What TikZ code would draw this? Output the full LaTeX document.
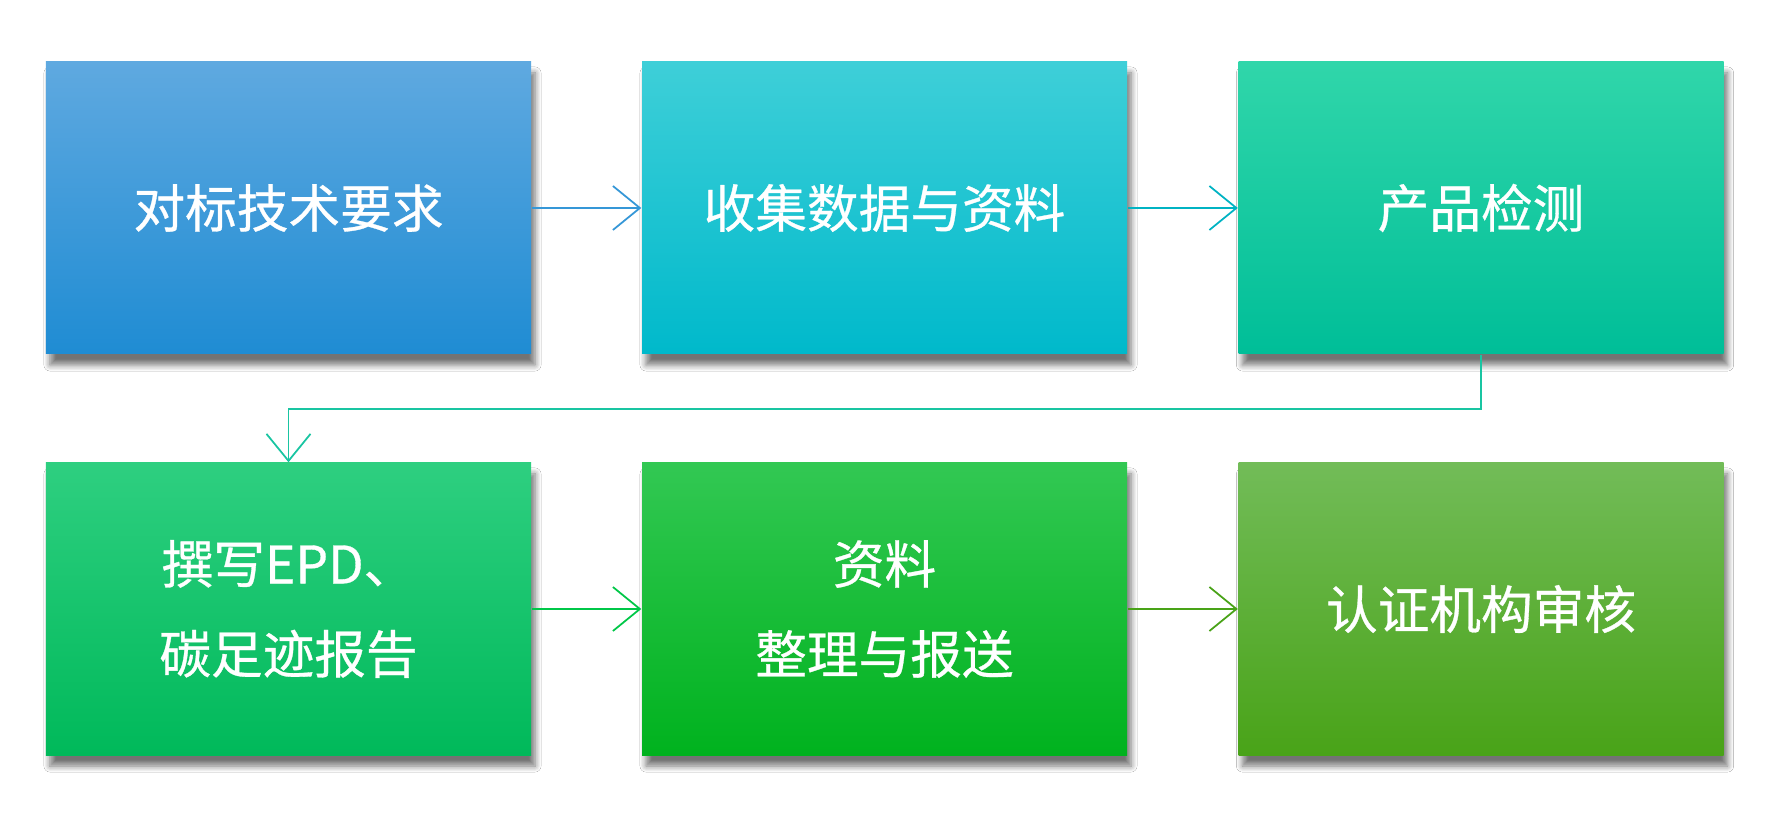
\documentclass[tikz,border=0pt]{standalone}
\usepackage{fontspec}
\newfontfamily\cjk[FakeBold=0.6]{Noto Sans CJK SC}
\usetikzlibrary{arrows.meta,shadows.blur}

\definecolor{blueA}{HTML}{5FA9E0}
\definecolor{blueB}{HTML}{1F8CD3}
\definecolor{cyanA}{HTML}{3ECFD8}
\definecolor{cyanB}{HTML}{00B9CB}
\definecolor{tealA}{HTML}{30D6AA}
\definecolor{tealB}{HTML}{00BE98}
\definecolor{mintA}{HTML}{2ECF80}
\definecolor{mintB}{HTML}{00B95A}
\definecolor{greenA}{HTML}{32C853}
\definecolor{greenB}{HTML}{00B21E}
\definecolor{leafA}{HTML}{72BC58}
\definecolor{leafB}{HTML}{49A318}

\tikzset{
  stepbox/.style={rectangle, minimum width=4.85cm, minimum height=2.92cm,
    inner sep=0pt, text=white, align=center,
    font=\cjk\fontsize{14.7}{25.6}\selectfont,
    blur shadow={shadow xshift=0.4mm, shadow yshift=-1.1mm,
      shadow opacity=55, shadow blur steps=6}},
  flow/.style={line width=0.5pt,
    -{Straight Barb[length=2.7mm, width=4.4mm, line width=0.5pt]}},
}

\begin{document}
\begin{tikzpicture}
    \fill[white] (0,0) rectangle (17.72,8.28);
    \useasboundingbox (0,0) rectangle (17.72,8.28);

    % first row
    \node[stepbox, top color=blueA, bottom color=blueB] (b1) at (2.885,6.20) {对标技术要求};
    \node[stepbox, top color=cyanA, bottom color=cyanB] (b2) at (8.845,6.20) {收集数据与资料};
    \node[stepbox, top color=tealA, bottom color=tealB] (b3) at (14.81,6.20) {产品检测};

    % second row
    \node[stepbox, top color=mintA, bottom color=mintB] (b4) at (2.885,2.19) {撰写EPD、\\碳足迹报告};
    \node[stepbox, top color=greenA, bottom color=greenB] (b5) at (8.845,2.19) {资料\\整理与报送};
    \node[stepbox, top color=leafA, bottom color=leafB] (b6) at (14.81,2.19) {认证机构审核};

    % arrows
    \draw[flow, color=blueB!90] (b1) -- (b2);
    \draw[flow, color=cyanB!90!teal] (b2) -- (b3);
    \draw[flow, color=tealB!90] (b3.south) -- ++(0,-0.54) -| (b4.north);
    \draw[flow, color=mintB!80!green] (b4) -- (b5);
    \draw[flow, color=leafB] (b5) -- (b6);
\end{tikzpicture}
\end{document}
